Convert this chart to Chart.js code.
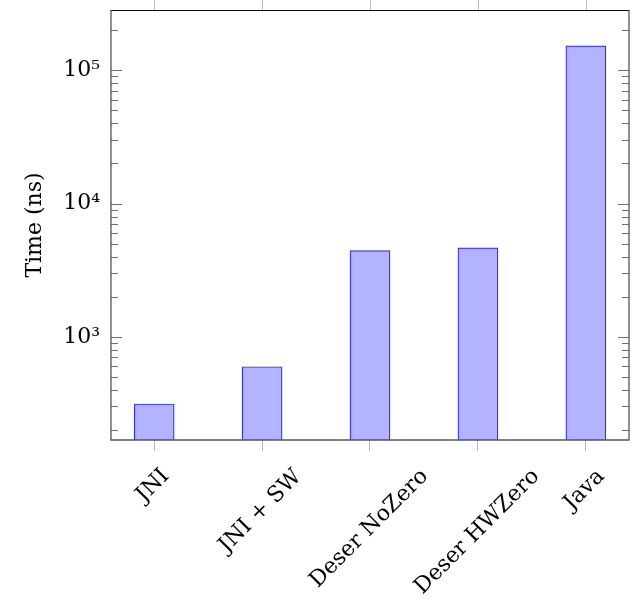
<!DOCTYPE html>
<html>
<head>
<meta charset="utf-8">
<style>
  html, body { margin: 0; padding: 0; background: #fff; }
  #wrap { width: 637px; height: 609px; position: relative; }
</style>
<script src="https://cdn.jsdelivr.net/npm/chart.js@4/dist/chart.umd.min.js"></script>
</head>
<body>
<div id="wrap"><canvas id="c" width="637" height="609"></canvas></div>
<script>
// ---- data ----
const categories = ['JNI', 'JNI + SW', 'Deser NoZero', 'Deser HWZero', 'Java'];
const timesNs = [313, 596, 4440, 4650, 153000];
const yMajorTicks = [1000, 10000, 100000];
const yMajorLabels = ['10³', '10⁴', '10⁵'];
const yMinorTicks = [200, 300, 400, 500, 600, 700, 800, 900,
                     2000, 3000, 4000, 5000, 6000, 7000, 8000, 9000,
                     20000, 30000, 40000, 50000, 60000, 70000, 80000, 90000,
                     200000];
const yMin = 168, yMax = 284000;

const FONT = "'DejaVu Serif', 'Liberation Serif', serif";

const frameTicks = {
  id: 'frameTicks',
  afterDatasetsDraw(chart) {
    const { ctx, chartArea: a, scales } = chart;
    const y = scales.y, x = scales.x;
    ctx.save();
    ctx.strokeStyle = '#707070';
    ctx.lineWidth = 1;
    const drawY = (v, len) => {
      const py = Math.round(y.getPixelForValue(v)) + 0.5;
      if (py < a.top || py > a.bottom) return;
      ctx.beginPath();
      ctx.moveTo(a.left, py); ctx.lineTo(a.left + len, py);
      ctx.moveTo(a.right, py); ctx.lineTo(a.right - len, py);
      ctx.stroke();
    };
    yMinorTicks.forEach(v => drawY(v, 7));
    yMajorTicks.forEach(v => drawY(v, 11));
    ctx.strokeStyle = '#b8b8b8';
    categories.forEach((c, i) => {
      const px = Math.round(x.getPixelForValue(i)) + 0.5;
      ctx.beginPath();
      ctx.moveTo(px, a.top); ctx.lineTo(px, a.top - 10);
      ctx.stroke();
    });
    ctx.lineWidth = 1.3;
    ctx.strokeStyle = '#555';
    ctx.beginPath();
    ctx.moveTo(a.left, a.top); ctx.lineTo(a.left, a.bottom); ctx.lineTo(a.right, a.bottom); ctx.lineTo(a.right, a.top);
    ctx.stroke();
    ctx.strokeStyle = '#111';
    ctx.lineWidth = 1;
    ctx.beginPath();
    ctx.moveTo(a.left, a.top + 0.5); ctx.lineTo(a.right, a.top + 0.5);
    ctx.stroke();
    ctx.restore();
  },
  // rotated category labels, centred under their tick (pgfplots style)
  afterDraw(chart) {
    const { ctx, chartArea: a, scales } = chart;
    const x = scales.x;
    ctx.save();
    ctx.fillStyle = '#000';
    ctx.font = "22px " + FONT;
    ctx.textAlign = 'left';
    ctx.textBaseline = 'alphabetic';
    const topY = a.bottom + 26;
    const r = Math.SQRT2;
    categories.forEach((c, i) => {
      const m = ctx.measureText(c);
      const L = m.actualBoundingBoxLeft, R = m.actualBoundingBoxRight;
      const A = m.actualBoundingBoxAscent, D = m.actualBoundingBoxDescent;
      const gw = L + R, gh = A + D;
      const cx = x.getPixelForValue(i) - 2;
      const cy = topY + (gw + gh) / (2 * r);
      ctx.save();
      ctx.translate(cx, cy);
      ctx.rotate(-Math.PI / 4);
      ctx.fillText(c, -(R - L) / 2, (A - D) / 2);
      ctx.restore();
    });
    ctx.restore();
  }
};

new Chart(document.getElementById('c'), {
  type: 'bar',
  data: {
    datasets: [{
      data: timesNs.map((v, i) => ({ x: i, y: v })),
      backgroundColor: 'rgb(179,179,255)',
      borderColor: 'rgb(40,40,255)',
      borderWidth: 1.2,
      barThickness: 40
    }]
  },
  options: {
    responsive: false,
    animation: false,
    layout: { padding: { top: 10, right: 8, left: 0, bottom: 0 } },
    plugins: { legend: { display: false }, tooltip: { enabled: false } },
    scales: {
      x: {
        type: 'linear',
        offset: false,
        min: -0.4,
        max: categories.length - 0.6,
        afterBuildTicks(s) { s.ticks = categories.map((c, i) => ({ value: i })); },
        afterFit(s) { s.height = 169; s.paddingLeft = 0; s.paddingRight = 0; },
        border: { display: false },
        grid: { display: true, offset: false, drawOnChartArea: false, drawTicks: true, tickLength: 11, color: '#b8b8b8' },
        ticks: {
          display: false,
          callback: (v) => categories[v],
          autoSkip: false
        }
      },
      y: {
        type: 'logarithmic',
        min: yMin,
        max: yMax,
        afterBuildTicks(s) { s.ticks = yMajorTicks.map(v => ({ value: v })); },
        afterFit(s) { s.width = 111; s.paddingTop = 0; s.paddingBottom = 0; },
        border: { display: false },
        grid: { display: false, drawTicks: false },
        title: {
          display: true,
          text: 'Time (ns)',
          color: '#000',
          font: { family: FONT, size: 22 },
          padding: { top: 22, bottom: 0 }
        },
        ticks: {
          callback: (v) => { const k = yMajorTicks.indexOf(v); return k >= 0 ? yMajorLabels[k] : ''; },
          padding: 11,
          color: '#000',
          font: { family: FONT, size: 22 }
        }
      }
    }
  },
  plugins: [frameTicks]
});
</script>
</body>
</html>
